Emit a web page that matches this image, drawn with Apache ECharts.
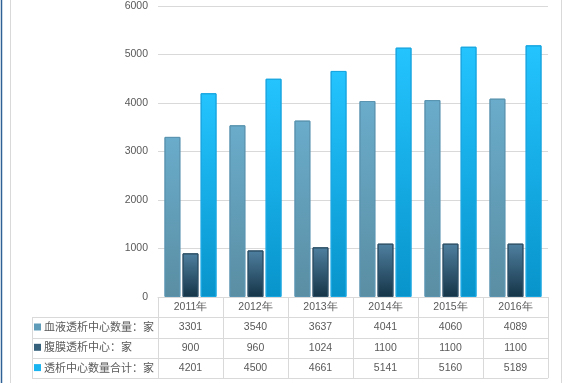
<!DOCTYPE html>
<html><head><meta charset="utf-8">
<script src="https://cdn.jsdelivr.net/npm/echarts@6/dist/echarts.min.js"></script>
<style>html,body{margin:0;padding:0;background:#fff}#c{width:563px;height:383px}</style>
</head><body><div id="c"></div>
<script>
const categories = ['2011年','2012年','2013年','2014年','2015年','2016年'];
const seriesNames = ['血液透析中心数量：家','腹膜透析中心：家','透析中心数量合计：家'];
const hemo = [3301,3540,3637,4041,4060,4089];
const perit = [900,960,1024,1100,1100,1100];
const total = [4201,4500,4661,5141,5160,5189];
const yMax = 6000, yStep = 1000;

const ROW_H = 20.3;
const GRID_LINE = '#d9d9d9';
const TXT = '#595959';
const NUM_FONT = '"Liberation Sans", Arial, sans-serif';
const CJK_FONT = '"Noto Sans CJK SC", sans-serif';

function grad(top, bottom) {
  return new echarts.graphic.LinearGradient(0, 0, 0, 1, [
    {offset: 0, color: top}, {offset: 1, color: bottom}
  ]);
}
const styles = [
  {fill: grad('#6aaccb', '#5a8ea3'), border: '#5a94b0', icon: '#5f9cba'},
  {fill: grad('#4f80a0', '#153447'), border: '#2c4f66', icon: '#35607c'},
  {fill: grad('#24c4ff', '#0894cb'), border: '#18a6e0', icon: '#1ab4f0'}
];
const data = [hemo, perit, total];

const chart = echarts.init(document.getElementById('c'), null, {renderer: 'canvas'});
chart.setOption({
  animation: false,
  backgroundColor: '#fff',
  grid: {left: 158, right: 15, top: 6, bottom: 86, containLabel: false},
  legend: {
    orient: 'vertical', left: 34, top: 320, padding: 0,
    itemWidth: 7, itemHeight: 7, itemGap: 6.3, icon: 'rect',
    selectedMode: false,
    textStyle: {color: TXT, fontSize: 11, fontFamily: CJK_FONT, lineHeight: 14, padding: [0,0,0,-2]},
    data: seriesNames.map((n, i) => ({name: n, itemStyle: {color: styles[i].icon, borderWidth: 0}}))
  },
  xAxis: {
    type: 'category', data: categories,
    axisLine: {show: true, lineStyle: {color: GRID_LINE, width: 1}},
    axisTick: {show: true, interval: 0, length: ROW_H * 4, lineStyle: {color: GRID_LINE}},
    axisLabel: {
      interval: 0, margin: 0, color: TXT, fontSize: 10.5, fontFamily: NUM_FONT,
      lineHeight: ROW_H,
      formatter: (v, i) => [v, hemo[i], perit[i], total[i]].join('\n')
    }
  },
  yAxis: {
    type: 'value', min: 0, max: yMax, interval: yStep,
    axisLine: {show: false}, axisTick: {show: false},
    axisLabel: {color: TXT, fontSize: 10.5, fontFamily: NUM_FONT, margin: 10, formatter: v => String(v)},
    splitLine: {lineStyle: {color: GRID_LINE, width: 1}}
  },
  series: seriesNames.map((n, i) => ({
    name: n, type: 'bar', data: data[i],
    barGap: '14%', barCategoryGap: '20%',
    itemStyle: {color: styles[i].fill, borderColor: styles[i].border, borderWidth: 1}
  }))
});

// table borders derived from the axis geometry
const c0 = chart.convertToPixel({xAxisIndex: 0}, categories[0]);
const c1 = chart.convertToPixel({xAxisIndex: 0}, categories[1]);
const band = c1 - c0;
const gl = c0 - band / 2;
const gr = gl + band * categories.length;
const y0 = chart.convertToPixel({yAxisIndex: 0}, 0);
const legendLeft = 32;
const g = [];
for (let k = 1; k <= 4; k++) {
  const y = Math.round(y0 + ROW_H * k) + 0.5;
  g.push({type: 'line', shape: {x1: legendLeft, y1: y, x2: gr, y2: y}, style: {stroke: GRID_LINE, lineWidth: 1}, silent: true});
}
g.push({type: 'line', shape: {x1: legendLeft + 0.5, y1: Math.round(y0 + ROW_H) + 0.5, x2: legendLeft + 0.5, y2: Math.round(y0 + ROW_H * 4) + 0.5}, style: {stroke: GRID_LINE, lineWidth: 1}, silent: true});
// outer frame
g.push({type: 'line', shape: {x1: 1.5, y1: 0, x2: 1.5, y2: 383}, style: {stroke: '#2e5f95', lineWidth: 1.5}, silent: true});
g.push({type: 'line', shape: {x1: 10.5, y1: 0, x2: 10.5, y2: 383}, style: {stroke: GRID_LINE, lineWidth: 1}, silent: true});
g.push({type: 'line', shape: {x1: 561.5, y1: 0, x2: 561.5, y2: 383}, style: {stroke: GRID_LINE, lineWidth: 1}, silent: true});
chart.setOption({graphic: g});
</script>
</body></html>
